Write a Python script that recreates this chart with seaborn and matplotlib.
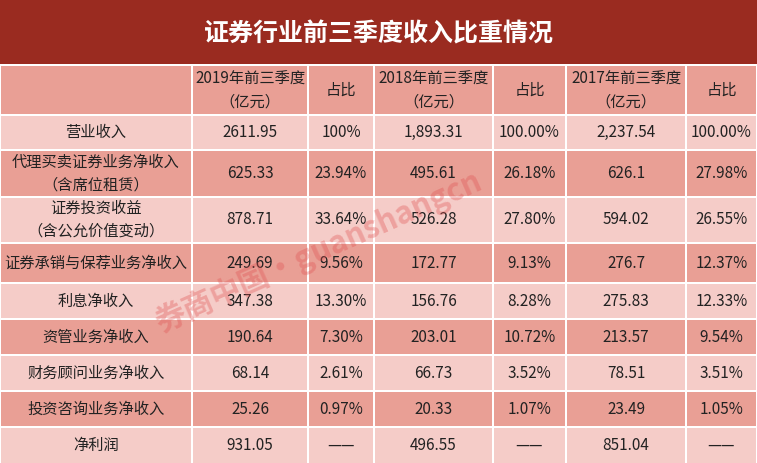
import numpy as np
import matplotlib
matplotlib.use("Agg")
from matplotlib import pyplot as plt
from matplotlib.colors import ListedColormap
import seaborn as sns

TITLE = '证券行业前三季度收入比重情况'
HEADERS = ['', '2019年前三季度\n（亿元）', '占比', '2018年前三季度\n（亿元）', '占比',
           '2017年前三季度\n（亿元）', '占比']
ROW_LABELS = ['营业收入', '代理买卖证券业务净收入\n（含席位租赁）', '证券投资收益\n（含公允价值变动）',
              '证券承销与保荐业务净收入', '利息净收入', '资管业务净收入', '财务顾问业务净收入',
              '投资咨询业务净收入', '净利润']
VAL_2019 = ['2611.95', '625.33', '878.71', '249.69', '347.38', '190.64', '68.14', '25.26', '931.05']
PCT_2019 = ['100%', '23.94%', '33.64%', '9.56%', '13.30%', '7.30%', '2.61%', '0.97%', '——']
VAL_2018 = ['1,893.31', '495.61', '526.28', '172.77', '156.76', '203.01', '66.73', '20.33', '496.55']
PCT_2018 = ['100.00%', '26.18%', '27.80%', '9.13%', '8.28%', '10.72%', '3.52%', '1.07%', '——']
VAL_2017 = ['2,237.54', '626.1', '594.02', '276.7', '275.83', '213.57', '78.51', '23.49', '851.04']
PCT_2017 = ['100.00%', '27.98%', '26.55%', '12.37%', '12.33%', '9.54%', '3.51%', '1.05%', '——']

W, H = 757, 463
col_edges = [0, 192, 308, 374, 493, 566, 686, 757]
row_edges = [66, 115, 150, 197, 243, 283, 319, 355, 391, 427, 463]
TITLE_H = 64

# color codes: 0 title, 1 dark pink, 2 light pink, 3 white
grid = np.full((H, W), 3, dtype=int)
grid[:TITLE_H, :] = 0
for r in range(len(row_edges) - 1):
    code = 1 if r % 2 == 0 else 2
    grid[row_edges[r]:row_edges[r + 1], :] = code
for e in row_edges[1:-1]:
    grid[e - 1:e + 1, :] = 3
for e in col_edges[1:-1]:
    grid[row_edges[0]:, e - 1:e + 1] = 3
grid[TITLE_H:row_edges[0], :] = 3
grid[row_edges[0]:, :1] = 3
grid[row_edges[0]:, -1:] = 3

cmap = ListedColormap(['#9a2b20', '#e99f95', '#f5ccc8', '#ffffff'])

fig = plt.figure(figsize=(W / 100, H / 100), dpi=100)
ax = fig.add_axes([0, 0, 1, 1])
sns.heatmap(grid, cmap=cmap, vmin=-0.5, vmax=3.5, cbar=False, ax=ax,
            xticklabels=False, yticklabels=False)
ax.set_xlim(0, W)
ax.set_ylim(H, 0)
ax.axis('off')

FONT = ['Noto Sans CJK SC', 'DejaVu Sans']
ax.text(W / 2, 34, TITLE, ha='center', va='center', color='white',
        fontsize=18, fontweight='bold', family=FONT)

centers_x = [(col_edges[i] + col_edges[i + 1]) / 2 for i in range(len(col_edges) - 1)]
centers_y = [(row_edges[i] + row_edges[i + 1]) / 2 for i in range(len(row_edges) - 1)]

for cx, h in zip(centers_x, HEADERS):
    ax.text(cx, centers_y[0], h, ha='center', va='center', fontsize=11,
            family=FONT, color='#222222', linespacing=1.45)

columns = [ROW_LABELS, VAL_2019, PCT_2019, VAL_2018, PCT_2018, VAL_2017, PCT_2017]
for c, col in enumerate(columns):
    for r, txt in enumerate(col):
        ax.text(centers_x[c], centers_y[r + 1], txt, ha='center', va='center',
                fontsize=11, family=FONT, color='#222222', linespacing=1.45)

# watermark
ax.text(318, 252, '券商中国·guanshangcn', ha='center', va='center', rotation=24,
        fontsize=22, fontweight='bold', family=FONT, color='#e05050', alpha=0.35)

fig.savefig('out.png', dpi=100)
